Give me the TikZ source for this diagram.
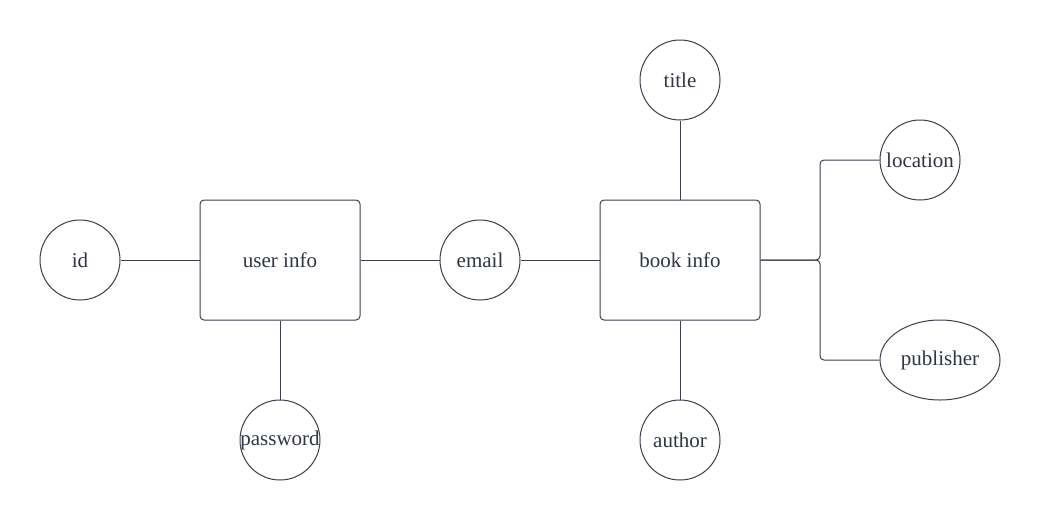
\documentclass[tikz,border=0pt]{standalone}
\usepackage{fontspec}
\setmainfont{Liberation Serif}
\usetikzlibrary{shapes.geometric}
\definecolor{inkline}{HTML}{3A3F4B}
\definecolor{inktext}{HTML}{2F3542}
\tikzset{
  entity/.style={draw=inkline,line width=1pt,rounded corners=4pt,minimum width=160pt,minimum height=120pt,inner sep=0pt},
  attr/.style={draw=inkline,line width=1pt,circle,minimum size=80pt,inner sep=0pt},
  link/.style={draw=inkline,line width=1pt}
}
\begin{document}
\begin{tikzpicture}[x=1pt,y=-1pt,font=\fontsize{21}{24}\selectfont,text=inktext]
  \useasboundingbox (0,0) rectangle (1040,520);
  \node[entity] (user) at (280,260) {user info};
  \node[entity] (book) at (680,260) {book info};
  \node[attr] (id) at (80,260) {id};
  \node[attr] (email) at (480,260) {email};
  \node[attr] (pass) at (280,440) {\makebox[0pt]{password}};
  \node[attr] (title) at (680,80) {title};
  \node[attr] (auth) at (680,440) {author};
  \node[attr] (loc) at (920,160) {location};
  \node[attr,ellipse,minimum width=120pt,minimum height=80pt] (pub) at (940,360) {publisher};
  \foreach \A/\B in {id.east/user.west,user.east/email.west,email.east/book.west,
    user.south/pass.north,book.north/title.south,book.south/auth.north}
  {\draw[link] (\A) -- (\B);}
  \coordinate (fork) at (820,260);
  \draw[link,rounded corners=4pt] (book.east) -- (fork) |- (loc.west);
  \draw[link,rounded corners=4pt] (book.east) -- (fork) |- (pub.west);
\end{tikzpicture}
\end{document}
